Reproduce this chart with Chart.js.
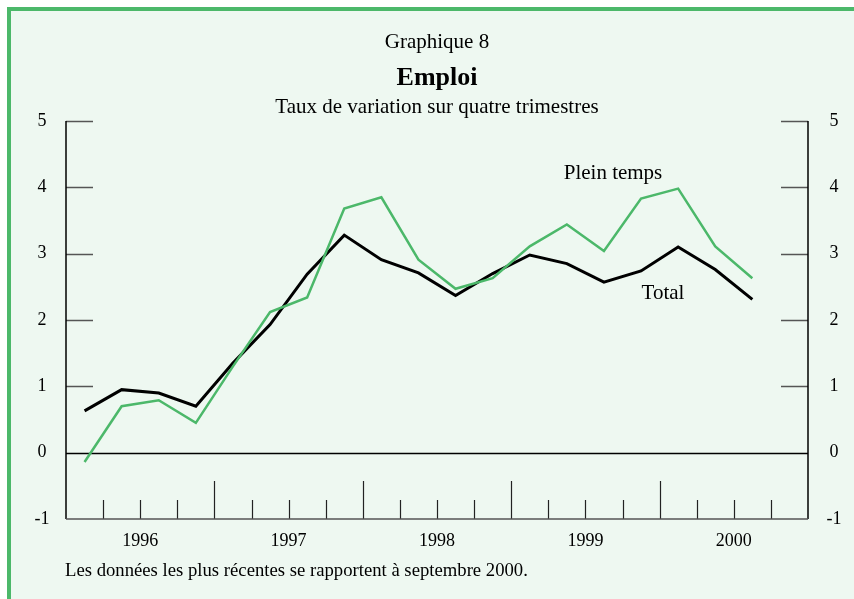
<!DOCTYPE html>
<html><head><meta charset="utf-8">
<script src="https://cdn.jsdelivr.net/npm/chart.js@4"></script>
<style>html,body{margin:0;padding:0;background:#fff}canvas{display:block}</style>
</head><body>
<canvas id="c" width="854" height="599"></canvas>
<script>
const quarters = ['1996T1','1996T2','1996T3','1996T4','1997T1','1997T2','1997T3','1997T4','1998T1','1998T2','1998T3','1998T4','1999T1','1999T2','1999T3','1999T4','2000T1','2000T2','2000T3','2000T4'];
const yearLabels = ['1996','1997','1998','1999','2000'];
const total = [0.63,0.95,0.90,0.70,1.35,1.93,2.69,3.28,2.91,2.71,2.37,2.70,2.98,2.85,2.57,2.74,3.10,2.76,2.31];
const pleinTemps = [-0.14,0.70,0.79,0.45,1.30,2.12,2.34,3.68,3.85,2.91,2.47,2.63,3.11,3.44,3.04,3.83,3.98,3.11,2.63];
const yTicks = [-1,0,1,2,3,4,5];

const SERIF = '"Liberation Serif","DejaVu Serif",serif';
const BG = '#eef8f1';
const GREEN = '#4cb86a';

const deco = {
  id: 'deco',
  beforeDraw(chart) {
    const ctx = chart.ctx;
    ctx.save();
    ctx.fillStyle = '#fff';
    ctx.fillRect(0, 0, chart.width, chart.height);
    ctx.fillStyle = BG;
    ctx.fillRect(7, 7, chart.width - 7, chart.height - 7);
    ctx.fillStyle = GREEN;
    ctx.fillRect(7, 7, chart.width - 7, 4);
    ctx.fillRect(7, 7, 4, chart.height - 7);
    ctx.restore();
  },
  beforeDatasetsDraw(chart) {
    const ctx = chart.ctx;
    const a = chart.chartArea;
    const x = chart.scales.x, y = chart.scales.y;
    ctx.save();
    ctx.strokeStyle = '#555';
    ctx.lineWidth = 1.5;
    yTicks.forEach(v => {
      if (v <= 0) return;
      const py = Math.round(y.getPixelForValue(v)) + 0.5;
      ctx.beginPath();
      ctx.moveTo(a.left, py); ctx.lineTo(a.left + 27, py);
      ctx.moveTo(a.right - 27, py); ctx.lineTo(a.right, py);
      ctx.stroke();
    });
    const half = (x.getPixelForValue(1) - x.getPixelForValue(0)) / 2;
    ctx.strokeStyle = '#222';
    ctx.lineWidth = 1.2;
    for (let k = 1; k < quarters.length; k++) {
      const px = Math.round(x.getPixelForValue(k) - half) + 0.5;
      const top = (k % 4 === 0) ? a.bottom - 38 : a.bottom - 19;
      ctx.beginPath();
      ctx.moveTo(px, a.bottom); ctx.lineTo(px, top);
      ctx.stroke();
    }
    ctx.strokeStyle = '#000';
    ctx.lineWidth = 1.5;
    ctx.beginPath();
    ctx.moveTo(a.left, a.top); ctx.lineTo(a.left, a.bottom);
    ctx.moveTo(a.right, a.top); ctx.lineTo(a.right, a.bottom);
    ctx.stroke();
    ctx.strokeStyle = '#555';
    ctx.beginPath();
    ctx.moveTo(a.left, a.bottom); ctx.lineTo(a.right, a.bottom);
    ctx.stroke();
    ctx.strokeStyle = '#000';
    const z = Math.round(y.getPixelForValue(0)) + 0.5;
    ctx.beginPath();
    ctx.moveTo(a.left, z); ctx.lineTo(a.right, z);
    ctx.stroke();
    ctx.restore();
  },
  afterDraw(chart) {
    const ctx = chart.ctx;
    const a = chart.chartArea;
    const x = chart.scales.x, y = chart.scales.y;
    const cx = (a.left + a.right) / 2;
    ctx.save();
    ctx.fillStyle = '#000';
    ctx.textAlign = 'center';
    ctx.textBaseline = 'middle';
    ctx.font = '21px ' + SERIF;
    ctx.fillText('Graphique 8', cx, 42);
    ctx.font = 'bold 26px ' + SERIF;
    ctx.fillText('Emploi', cx, 78);
    ctx.font = '21px ' + SERIF;
    ctx.fillText('Taux de variation sur quatre trimestres', cx, 107);
    ctx.font = '18px ' + SERIF;
    yTicks.forEach(v => {
      const py = y.getPixelForValue(v);
      ctx.fillText(String(v), 42, py);
      ctx.fillText(String(v), 834, py);
    });
    yearLabels.forEach((lab, i) => {
      const p = (x.getPixelForValue(i * 4 + 1) + x.getPixelForValue(i * 4 + 2)) / 2;
      ctx.fillText(lab, p, 541);
    });
    ctx.font = '21px ' + SERIF;
    ctx.fillText('Plein temps', 613, 173);
    ctx.fillText('Total', 663, 293);
    ctx.textAlign = 'left';
    ctx.font = '18.7px ' + SERIF;
    ctx.fillText('Les données les plus récentes se rapportent à septembre 2000.', 65, 571);
    ctx.restore();
  }
};

new Chart(document.getElementById('c'), {
  type: 'line',
  data: {
    labels: quarters,
    datasets: [
      { label: 'Plein temps', data: pleinTemps, borderColor: GREEN, borderWidth: 2.5, pointRadius: 0, tension: 0, fill: false },
      { label: 'Total', data: total, borderColor: '#000', borderWidth: 3, pointRadius: 0, tension: 0, fill: false }
    ]
  },
  options: {
    responsive: false,
    animation: false,
    layout: { padding: { top: 121, left: 0, right: 0, bottom: 0 } },
    plugins: { legend: { display: false }, tooltip: { enabled: false }, title: { display: false } },
    scales: {
      x: { type: 'category', offset: true, grid: { display: false }, border: { display: false }, ticks: { display: false },
           afterFit(s) { s.height = 80; } },
      y: { position: 'left', min: -1, max: 5, grid: { display: false }, border: { display: false }, ticks: { display: false },
           afterFit(s) { s.width = 66; } },
      y2: { position: 'right', min: -1, max: 5, grid: { display: false }, border: { display: false }, ticks: { display: false },
           afterFit(s) { s.width = 46; } }
    }
  },
  plugins: [deco]
});
</script>
</body></html>
